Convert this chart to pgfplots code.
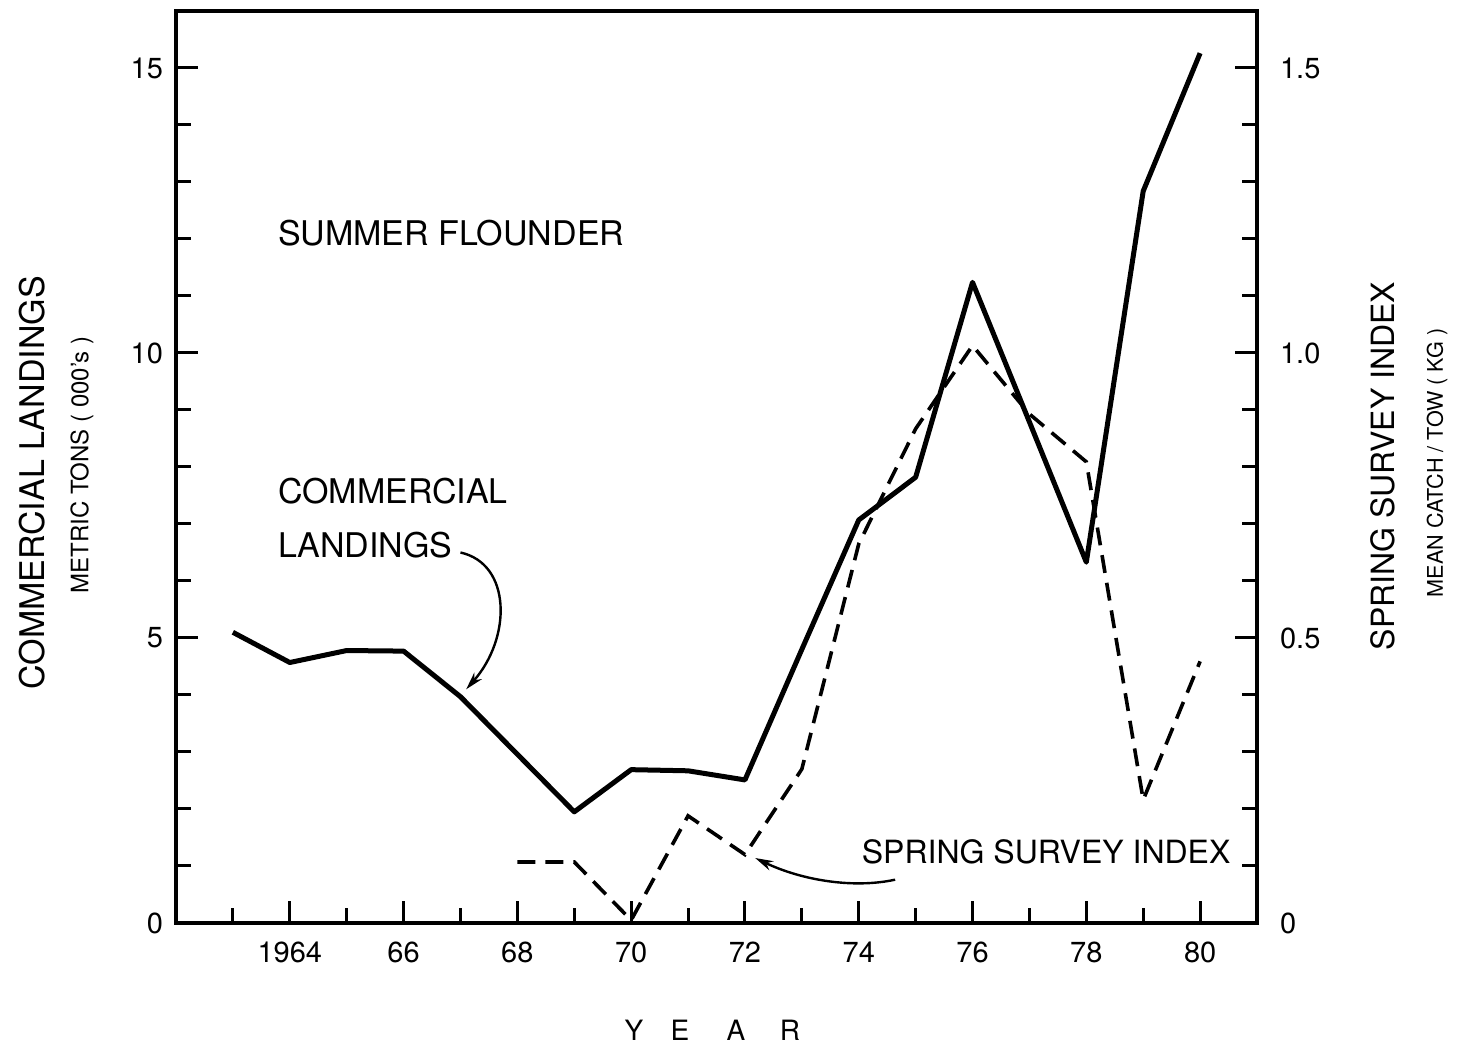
\documentclass[border=0pt]{standalone}
\usepackage{pgfplots}
\pgfplotsset{compat=1.18}
\usepackage{fontspec}
\setmainfont{TeX Gyre Heros}
\usetikzlibrary{arrows.meta}
\newcommand{\tl}[1]{{\fontsize{14.5}{17}\selectfont #1}}
\begin{document}
\begin{tikzpicture}
\useasboundingbox (-88pt,-63pt) rectangle (640.5pt,461.5pt);
\pgfplotsset{
  common/.style={
    at={(0pt,0pt)}, anchor=south west,
    scale only axis, width=540.5pt, height=456pt,
    xmin=1962, xmax=1981,
    tick align=inside,
    major tick length=11pt, minor tick length=7.5pt,
    every tick/.style={black, line width=1.5pt},
    axis line style={line width=2pt},
    /pgf/number format/assume math mode=true,
    clip=false,
  }
}
\begin{axis}[common,
  ymin=0, ymax=16,
  tick pos=left,
  xtick={1964,1966,...,1980},
  xticklabels={\tl{1964},\tl{66},\tl{68},\tl{70},\tl{72},\tl{74},\tl{76},\tl{78},\tl{80}},
  minor xtick={1963,1965,...,1979},
  ytick={0,5,10,15},
  yticklabels={\tl{0},\tl{5},\tl{10},\tl{15}},
  minor ytick={1,2,3,4,6,7,8,9,11,12,13,14},
  xticklabel style={yshift=-6pt},
  yticklabel style={xshift=-3pt},
]
\addplot[line width=2.5pt, line join=round] coordinates {
 (1963,5.10)(1964,4.57)(1965,4.78)(1966,4.77)(1967,3.97)(1968,2.96)
 (1969,1.95)(1970,2.69)(1971,2.67)(1972,2.51)(1973,4.80)(1974,7.07)
 (1975,7.82)(1976,11.24)(1977,8.79)(1978,6.33)(1979,12.84)(1980,15.26)};
\node[anchor=west, font=\fontsize{17}{20}\selectfont] at (axis cs:1963.67,12.1) {SUMMER FLOUNDER};
\node[anchor=west, font=\fontsize{17}{20}\selectfont] at (axis cs:1963.67,7.58) {COMMERCIAL};
\node[anchor=west, font=\fontsize{17}{20}\selectfont] at (axis cs:1963.67,6.63) {LANDINGS};
\draw[line width=1.2pt, -{Stealth[length=9pt,width=5pt]}] (axis cs:1967.0,6.5) .. controls (axis cs:1967.9,6.3) and (axis cs:1967.9,5.0) .. (axis cs:1967.1,4.1);
\node[anchor=west, font=\fontsize{16}{19}\selectfont] at (axis cs:1973.93,1.25) {SPRING SURVEY INDEX};
\draw[line width=1.2pt, -{Stealth[length=9pt,width=5pt]}] (axis cs:1974.64,0.76) .. controls (axis cs:1973.9,0.6) and (axis cs:1973.0,0.75) .. (axis cs:1972.18,1.14);
\end{axis}
\begin{axis}[common,
  ymin=0, ymax=1.6,
  hide x axis,
  axis y line*=right,
  ytick={0,0.5,1,1.5},
  yticklabels={\tl{0},\tl{0.5},\tl{1.0},\tl{1.5}},
  minor ytick={0.1,0.2,0.3,0.4,0.6,0.7,0.8,0.9,1.1,1.2,1.3,1.4},
  yticklabel style={xshift=8pt},
]
\addplot[line width=1.8pt, dash pattern=on 9pt off 5pt] coordinates {
 (1968,0.107)(1969,0.107)(1970,0.005)(1971,0.188)(1972,0.120)(1973,0.270)
 (1974,0.665)(1975,0.867)(1976,1.013)(1977,0.893)(1978,0.809)(1979,0.216)(1980,0.459)};
\end{axis}
\node[rotate=90, font=\fontsize{17}{20}\selectfont] at (-72pt,220pt) {COMMERCIAL LANDINGS};
\node[rotate=90, font=\fontsize{12}{14}\selectfont] at (-47pt,229pt) {METRIC TONS ( 000's )};
\node[rotate=90, font=\fontsize{16}{19}\selectfont] at (603.5pt,228.5pt) {SPRING SURVEY INDEX};
\node[rotate=90, font=\fontsize{10.8}{13}\selectfont] at (630.5pt,230pt) {MEAN CATCH / TOW ( KG )};
\foreach \xx/\ll in {229/Y,252/E,280/A,307/R}
  \node[font=\fontsize{14}{16}\selectfont] at (\xx pt,-53.5pt) {\ll};
\end{tikzpicture}
\end{document}
